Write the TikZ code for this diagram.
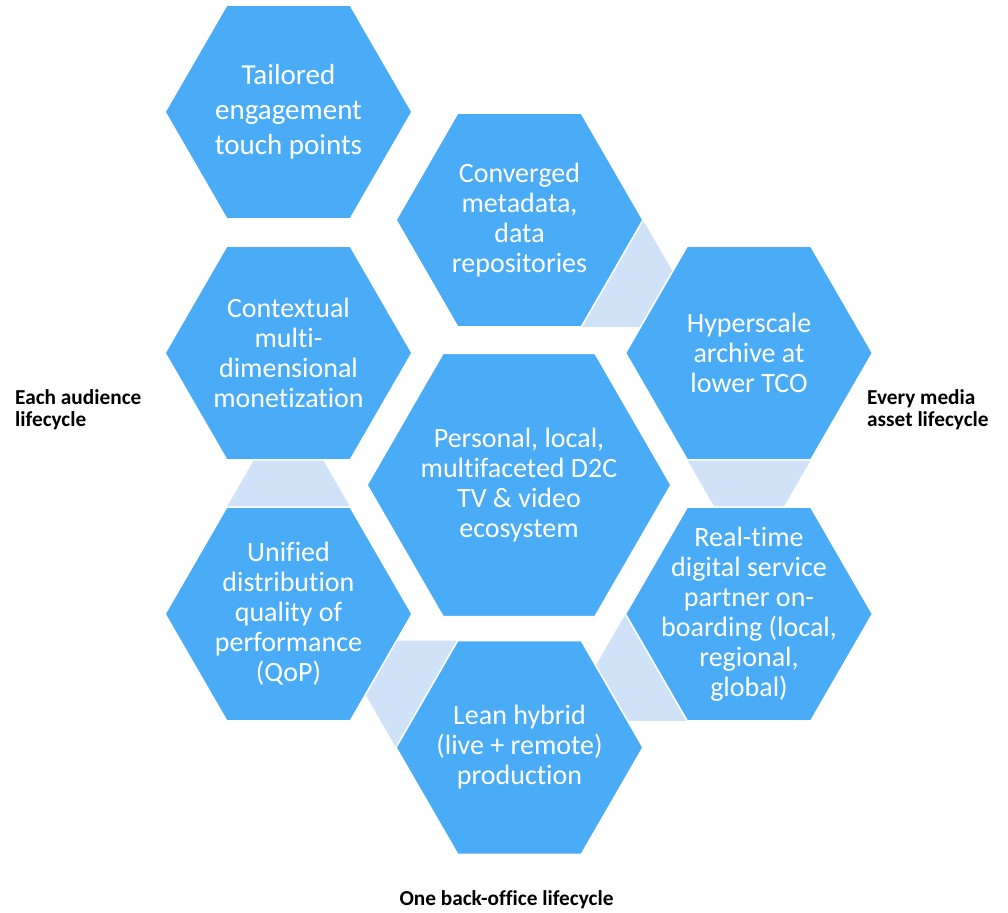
\documentclass[tikz,border=0pt]{standalone}
\usepackage{fontspec}
\setmainfont{Carlito}[Ligatures=NoCommon]
\usetikzlibrary{shapes.geometric}
\definecolor{hexblue}{RGB}{74,172,246}
\definecolor{gaplight}{RGB}{207,226,248}
\pgfdeclarelayer{background}
\pgfsetlayers{background,main}

\begin{document}
\begin{tikzpicture}[x=1pt,y=1pt,
    hexa/.style={regular polygon,regular polygon sides=6,minimum size=247pt,
      inner sep=0pt,outer sep=0pt,fill=hexblue,draw=white,line width=1.5pt},
    bighexa/.style={hexa,minimum size=304pt},
    hextext/.style={text=white,align=center,inner sep=0pt,
      font=\fontsize{28}{30}\selectfont},
    gap/.style={fill=gaplight},
    lifecycle/.style={align=left,inner sep=0pt,
      font=\bfseries\fontsize{21.3}{22}\selectfont}]
    \useasboundingbox (0,0) rectangle (1008,912);

    % hexagons
    \node[hexa] (tailored) at (288.5,800) {};
    \node[hexa] (converged) at (519.5,692) {};
    \node[hexa] (hyper) at (749,559) {};
    \node[hexa] (context) at (288.5,559) {};
    \node[bighexa] (personal) at (519,427) {};
    \node[hexa] (unified) at (288.5,298) {};
    \node[hexa] (realtime) at (749,298) {};
    \node[hexa] (lean) at (519.5,164.5) {};

    % texts
    \node[hextext,font=\fontsize{29}{35}\selectfont] (tailoredtxt) at (tailored) {Tailored\\engagement\\touch points};
    \node[hextext] (convergedtxt) at (converged) {Converged\\metadata,\\data\\repositories};
    \node[hextext] (hypertxt) at (hyper) {Hyperscale\\archive at\\lower TCO};
    \node[hextext] (contexttxt) at (context) {Contextual\\multi-\\dimensional\\monetization};
    \node[hextext] (personaltxt) at (personal) {Personal, local,\\multifaceted D2C\\TV \& video\\ecosystem};
    \node[hextext] (unifiedtxt) at (unified) {Unified\\distribution\\quality of\\performance\\(QoP)};
    \node[hextext] (realtimetxt) at (realtime) {Real-time\\digital service\\partner on-\\boarding (local,\\regional,\\global)};
    \node[hextext] (leantxt) at (lean) {Lean hybrid\\(live + remote)\\production};

    % light links between hexagons
    \begin{pgfonlayer}{background}
    \fill[gap] (converged.0) -- (intersection of converged.60--converged.0 and hyper.120--hyper.180)
      -- (intersection of converged.240--converged.300 and hyper.120--hyper.180) -- (converged.300) -- cycle;
    \fill[gap] (hyper.240) -- (hyper.300) -- (intersection of hyper.0--hyper.300 and realtime.60--realtime.120)
      -- (intersection of hyper.180--hyper.240 and realtime.60--realtime.120) -- cycle;
    \fill[gap] (unified.120) -- (unified.60) -- (intersection of unified.0--unified.60 and context.240--context.300)
      -- (intersection of unified.180--unified.120 and context.240--context.300) -- cycle;
    \fill[gap] (intersection of lean.120--lean.60 and unified.0--unified.300) -- (lean.120) -- (lean.180)
      -- (intersection of lean.240--lean.180 and unified.0--unified.300) -- cycle;
    \fill[gap] (realtime.180) -- (intersection of realtime.120--realtime.180 and lean.60--lean.0)
      -- (intersection of realtime.300--realtime.240 and lean.60--lean.0) -- (realtime.240) -- cycle;
    \end{pgfonlayer}

    % lifecycle labels
    \node[lifecycle,anchor=north west] (audience) at (15,523) {Each audience\\lifecycle};
    \node[lifecycle,anchor=north west] (asset) at (867,523) {Every media\\asset lifecycle};
    \node[lifecycle,anchor=base] (backoffice) at (506.5,7) {One back-office lifecycle};
\end{tikzpicture}
\end{document}
